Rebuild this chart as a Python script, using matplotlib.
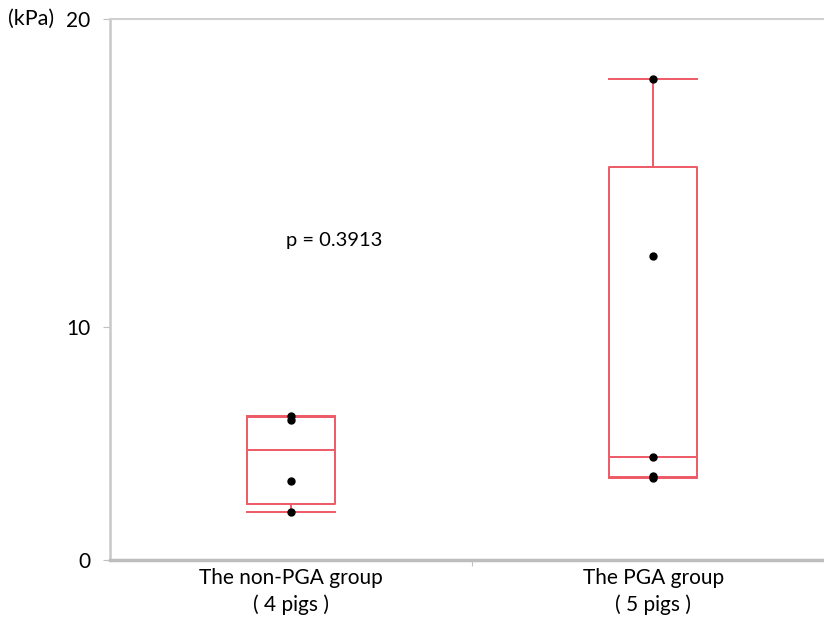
import numpy as np
import matplotlib
matplotlib.use("Agg")
import matplotlib.pyplot as plt

# values (kPa)
groups = ["The non-PGA group\n( 4 pigs )", "The PGA group\n( 5 pigs )"]
non_pga = [6.18, 6.01, 3.39, 2.06]
pga = [18.05, 12.31, 4.42, 3.61, 3.52]
p_text = "p = 0.3913"
yticks = [0, 10, 20]

# the axis in the picture is stretched above 10
k = 0.7565


def fwd(v):
    v = np.asarray(v, dtype=float)
    return np.where(v <= 10, v * k, 10 * k + (v - 10))


def inv(u):
    u = np.asarray(u, dtype=float)
    return np.where(u <= 10 * k, u / k, 10 + (u - 10 * k))


def stats(d):
    d = np.sort(np.asarray(d))
    q1, med, q3 = np.percentile(d, [25, 50, 75], method="weibull")
    iqr = q3 - q1
    lo = d[d >= q1 - 1.5 * iqr].min()
    hi = d[d <= q3 + 1.5 * iqr].max()
    return dict(med=med, q1=q1, q3=q3, whislo=lo, whishi=hi, fliers=[])


plt.rcParams["font.family"] = ["Lato", "DejaVu Sans"]
fig = plt.figure(figsize=(8.24, 6.21), dpi=100)
ax = fig.add_axes([110 / 824, 1 - 560 / 621, 1 - 110 / 824, (560 - 19) / 621])
ax.set_yscale("function", functions=(fwd, inv))

red = "#ee5a66"
data = [non_pga, pga]
ax.bxp([stats(d) for d in data], positions=[1, 2], widths=0.245,
       showfliers=False, capwidths=0.245,
       boxprops=dict(color=red, lw=1.4),
       medianprops=dict(color=red, lw=1.4),
       whiskerprops=dict(color=red, lw=1.4),
       capprops=dict(color=red, lw=1.4))

for i, d in enumerate(data):
    ax.plot([i + 1] * len(d), d, "o", color="black", ms=5, zorder=5)

ax.text(1.12, 12.8, p_text, fontsize=14.5, ha="center", va="center")

ax.set_xlim(0.5, 2.472)
ax.set_ylim(0, 20)
ax.set_yticks(yticks)
ax.set_yticklabels([str(t) for t in yticks], fontsize=15)
ax.yaxis.set_minor_locator(matplotlib.ticker.NullLocator())
ax.tick_params(axis="y", length=5, color="#c0c0c0", pad=9)

ax.set_xticks([1.5])
ax.set_xticklabels([""])
ax.tick_params(axis="x", length=4, color="#c0c0c0")
for i, g in enumerate(groups):
    ax.text(i + 1, -0.35, g, fontsize=15, ha="center", va="top",
            linespacing=1.35)

ax.spines["right"].set_visible(False)
ax.spines["left"].set_color("#c8c8c8")
ax.spines["left"].set_linewidth(1.8)
ax.spines["bottom"].set_color("#bdbdbd")
ax.spines["bottom"].set_linewidth(2.5)
ax.spines["top"].set_color("#d0d0d0")
ax.spines["top"].set_linewidth(1.5)

fig.text(8 / 824, 1 - 19 / 621, "(kPa)", fontsize=15.5, ha="left", va="center")

fig.savefig("out.png", dpi=100)
